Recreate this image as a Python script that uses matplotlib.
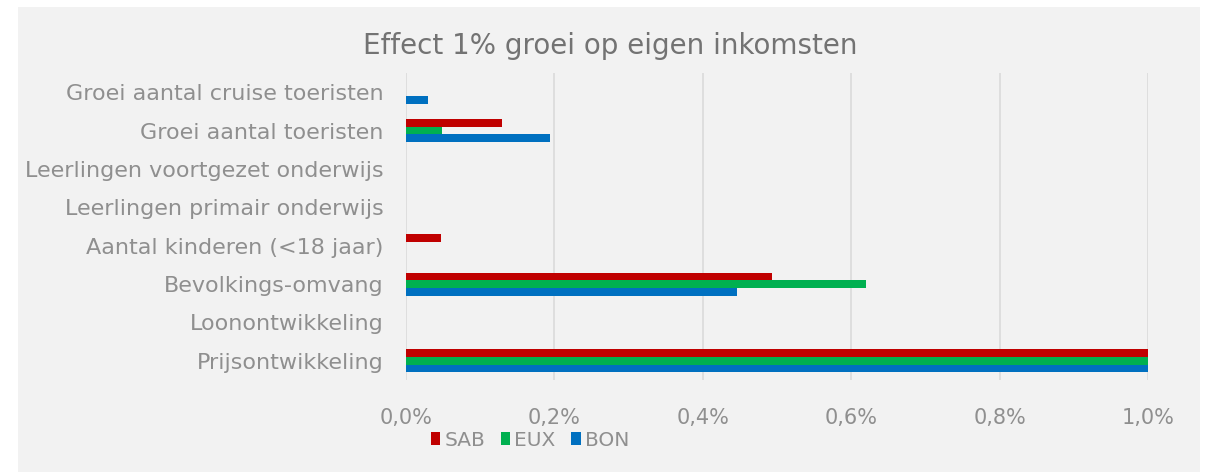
import matplotlib.pyplot as plt
import matplotlib
import numpy as np
from matplotlib.ticker import FuncFormatter
from matplotlib.patches import Rectangle, Patch

matplotlib.rcParams['font.family'] = ['DejaVu Sans']

# categorieën (van boven naar onder)
categories = ['Groei aantal cruise toeristen', 'Groei aantal toeristen',
              'Leerlingen voortgezet onderwijs', 'Leerlingen primair onderwijs',
              'Aantal kinderen (<18 jaar)', 'Bevolkings-omvang',
              'Loonontwikkeling', 'Prijsontwikkeling']
# effect in procenten
sab = [0.0, 0.129, 0.0, 0.0, 0.047, 0.493, 0.0, 1.0]
eux = [0.0, 0.049, 0.0, 0.0, 0.0, 0.620, 0.0, 1.0]
bon = [0.030, 0.194, 0.0, 0.0, 0.0, 0.446, 0.0, 1.0]
series = ['SAB', 'EUX', 'BON']
colors = ['#c00000', '#00b050', '#0070c0']
xticks = [0.0, 0.2, 0.4, 0.6, 0.8, 1.0]

text_col = '#8f8f8f'

fig = plt.figure(figsize=(12.08, 4.72), dpi=100, facecolor='white')
# grijze achtergrond van het diagramvlak
fig.patches.append(Rectangle((18 / 1208, 0), (1200 - 18) / 1208, 1 - 7 / 472,
                             transform=fig.transFigure, facecolor='#f2f2f2',
                             edgecolor='none', zorder=-10))

ax = fig.add_axes([406 / 1208, 1 - 380 / 472, (1148 - 406) / 1208, (380 - 73) / 472])
ax.set_facecolor('none')
ax.set_zorder(2)

y = np.arange(len(categories))
h = 0.2
for i, (vals, name, col) in enumerate(zip([sab, eux, bon], series, colors)):
    ax.barh(y + (i - 1) * h, vals, height=h, color=col, label=name, zorder=3)

ax.set_ylim(len(categories) - 0.5, -0.5)
ax.set_xlim(0, 1.0)
ax.set_yticks(y)
ax.set_yticklabels(categories, fontsize=16, color=text_col)
ax.set_xticks(xticks)
ax.xaxis.set_major_formatter(FuncFormatter(lambda v, p: f'{v:.1f}%'.replace('.', ',')))
ax.tick_params(axis='x', labelsize=15, labelcolor=text_col, length=0, pad=20)
ax.tick_params(axis='y', length=0, pad=16)
for s in ax.spines.values():
    s.set_visible(False)
ax.grid(axis='x', color='#dcdcdc', linewidth=1.3, zorder=0)
ax.set_axisbelow(True)

fig.text(610 / 1208, 1 - 46 / 472, 'Effect 1% groei op eigen inkomsten',
         ha='center', va='center', fontsize=20, color='#737373')

handles = [Patch(facecolor=c, label=n) for c, n in zip(colors, series)]
fig.legend(handles=handles, loc='center', bbox_to_anchor=(530 / 1208, 1 - 440 / 472),
           ncol=3, frameon=False, fontsize=14.5, labelcolor=text_col,
           handlelength=0.45, handleheight=0.65, handletextpad=0.2, columnspacing=0.8)

plt.savefig('out.png', dpi=100, facecolor='white')
plt.close()
